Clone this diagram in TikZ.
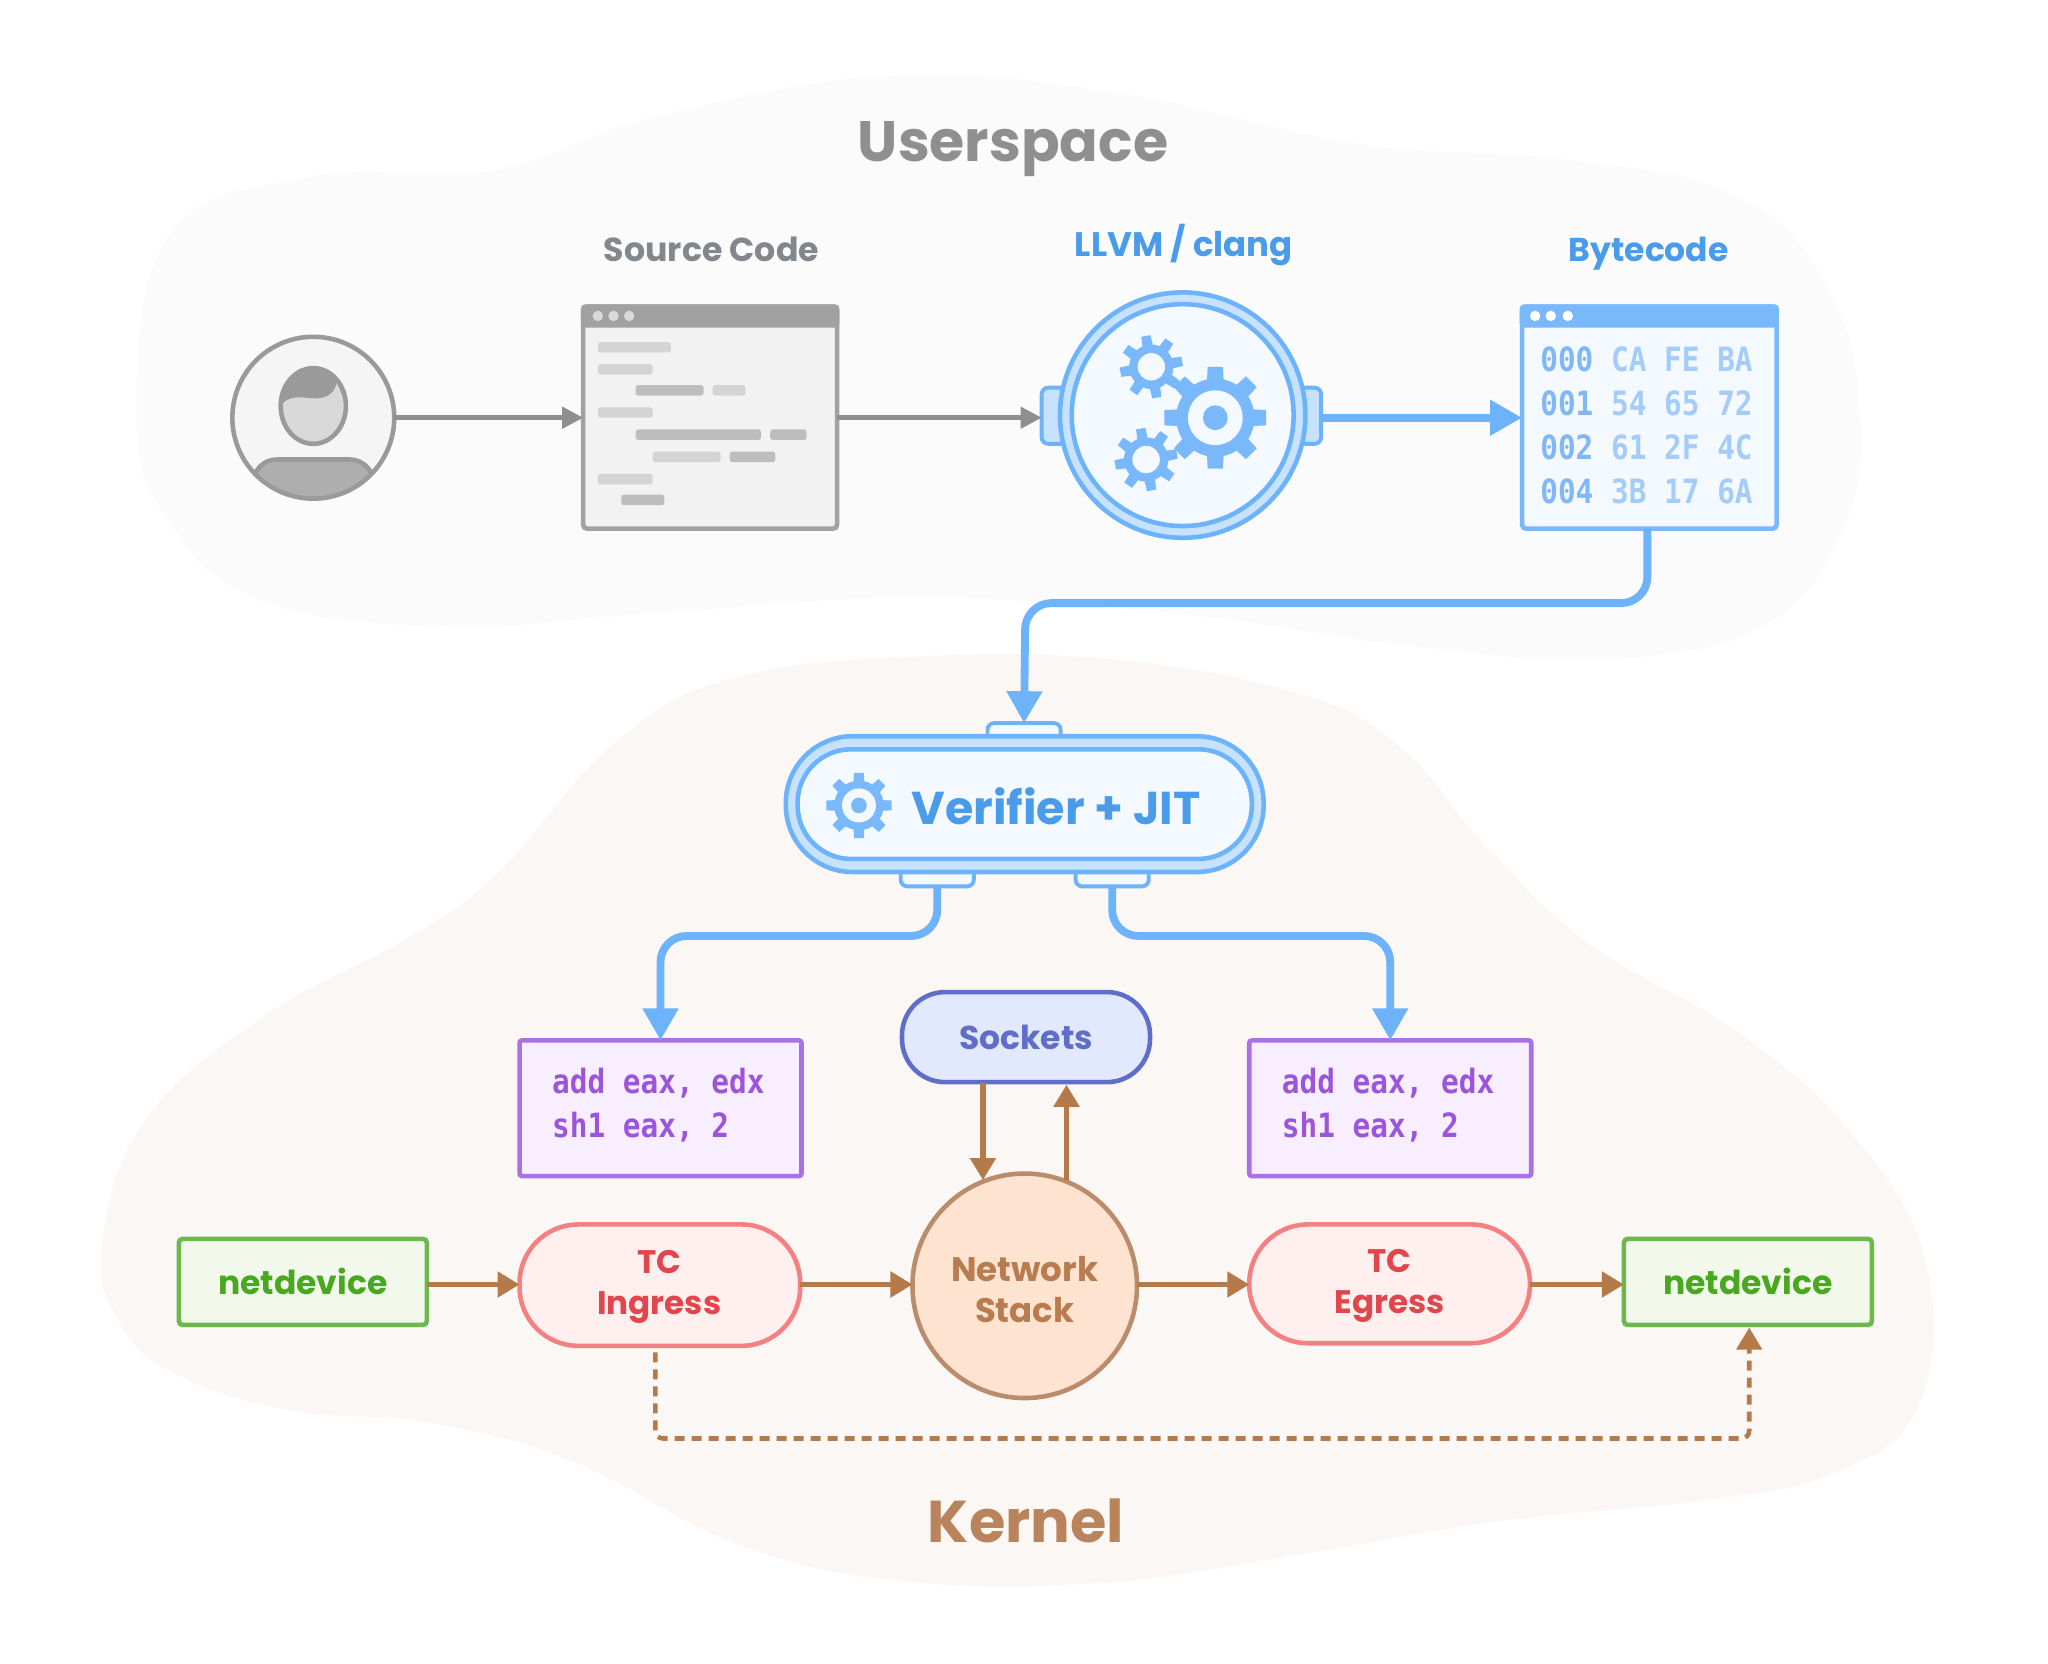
\documentclass[tikz,border=0pt]{standalone}
\usepackage{fontspec}
\setmainfont{Poppins}
\setmonofont[FakeStretch=0.88]{DejaVu Sans Mono}
\usetikzlibrary{arrows.meta}
\newcommand{\U}{0.65269pt}
\definecolor{usbg}{HTML}{FBFBFB}
\definecolor{kbg}{HTML}{FBF7F4}
\definecolor{gline}{HTML}{9A9A9A}
\definecolor{garrow}{HTML}{8F8F8F}
\definecolor{gtext}{HTML}{82878C}
\definecolor{blue}{HTML}{6DB3FB}
\definecolor{bluef}{HTML}{C7E2FF}
\definecolor{bluei}{HTML}{F4F9FF}
\definecolor{bluet}{HTML}{4A9BEA}
\definecolor{gearc}{HTML}{7AB8FC}
\definecolor{addr}{HTML}{7FB8F5}
\definecolor{hexb}{HTML}{A3CCF8}
\definecolor{purp}{HTML}{AA70E6}
\definecolor{purpf}{HTML}{F7EFFF}
\definecolor{purpt}{HTML}{9C55D8}
\definecolor{sockl}{HTML}{5F6FC9}
\definecolor{sockf}{HTML}{E2E8FD}
\definecolor{brown}{HTML}{B57A4A}
\definecolor{stackl}{HTML}{BB8C6C}
\definecolor{stackf}{HTML}{FDE3D0}
\definecolor{stackt}{HTML}{B97C50}
\definecolor{kernt}{HTML}{B9835C}
\definecolor{redl}{HTML}{F58082}
\definecolor{redf}{HTML}{FFEFEE}
\definecolor{redt}{HTML}{E0474C}
\definecolor{grnl}{HTML}{6CB84D}
\definecolor{grnf}{HTML}{F2F9EC}
\definecolor{grnt}{HTML}{49A81F}
\tikzset{
  sz/.style 2 args={minimum width=#1*\U,minimum height=#2*\U,inner sep=0pt,outer sep=0pt},
  lw/.style={line width=#1*\U},
  rc/.style={rounded corners=#1*\U},
  label/.style={font=\bfseries\fontsize{#1}{#1}\selectfont,inner sep=0pt,outer sep=0pt},
  twoline/.style={font=\bfseries\fontsize{#1}{20.6pt}\selectfont,align=center,inner sep=0pt,outer sep=0pt},
  codetext/.style={font=\ttfamily\bfseries\fontsize{16.7pt}{22pt}\selectfont,align=left,anchor=west,inner sep=0pt,outer sep=0pt},
  wind/.style={draw=#1,lw=3.5,rc=3},
  bport/.style={draw=blue,fill=bluei,lw=3,rc=5},
  bflow/.style={draw=blue,lw=6,rc=20,-{Triangle[length=16pt,width=17pt]}},
  gflow/.style={draw=garrow,lw=3.5,-{Triangle[length=10.5pt,width=10.5pt]}},
  kflow/.style={draw=brown,lw=4,-{Triangle[length=11pt,width=12.5pt]}},
  asmbox/.style={sz={216}{104},draw=purp,fill=purpf,lw=3.5,rc=2},
  tcbox/.style={draw=redl,fill=redf,lw=3.5,rc=45},
  ndbox/.style={sz={190}{66},draw=grnl,fill=grnf,lw=3.5,rc=3,text=grnt,label=16.5pt},
}
% center x, center y, tip r, root r, hole r, dot r, rotation, hole colour
\newcommand{\gearat}[8]{%
  \begin{scope}[shift={(#1,#2)}]
    \fill[gearc] (0,0) circle[radius=#4];
    \foreach \a in {0,45,...,315}{
      \fill[gearc,rotate=\a+#7] (-#3*0.2,0) -- (-#3*0.15,#3) -- (#3*0.15,#3) -- (#3*0.2,0) -- cycle;
    }
    \fill[#8] (0,0) circle[radius=#5];
    \fill[gearc] (0,0) circle[radius=#6];
  \end{scope}}
\begin{document}
\begin{tikzpicture}[x=0.65269pt,y=-0.65269pt]
\useasboundingbox (0,0) rectangle (1568.9,1274.7);
\fill[white] (0,0) rectangle (1568.9,1274.7);
% regions
\fill[usbg] plot[smooth cycle,tension=0.7] coordinates {(105,320) (130,180) (240,135) (380,130) (500,90) (680,58) (850,70) (1040,110) (1200,122) (1330,150) (1400,220) (1425,320) (1410,410) (1350,480) (1230,505) (1080,495) (900,470) (700,458) (500,470) (340,480) (200,460) (130,400)};
\fill[kbg] plot[smooth cycle,tension=0.7] coordinates {(78,955) (110,860) (200,780) (310,720) (380,670) (470,570) (560,520) (700,503) (850,505) (990,530) (1070,570) (1140,650) (1220,725) (1330,790) (1420,870) (1476,970) (1468,1080) (1400,1130) (1300,1150) (1150,1165) (1000,1190) (850,1212) (700,1212) (570,1185) (440,1120) (330,1090) (220,1080) (130,1050) (90,1010)};
\node[label=28.5pt,text=garrow] (ustitle) at (776,114) {Userspace};
\node[label=29.5pt,text=kernt] (ktitle) at (786,1165) {Kernel};
\node[label=16.6pt,text=gtext] (srclabel) at (545,191) {Source Code};
\node[label=17pt,text=bluet] (llvmlabel) at (907,188) {LLVM / clang};
\node[label=16.5pt,text=bluet] (bytelabel) at (1263,194) {Bytecode};
% user
\node[circle,sz={124}{124},fill=black!4] (user) at (240,320) {};
\begin{scope}
  \clip (240,320) circle[radius=62];
  \fill[gline!80,draw=gline,lw=3.5,rc=18] (194,352) rectangle (286,400);
\end{scope}
\filldraw[fill=black!15,draw=gline,lw=3.5] (240,311) ellipse[x radius=25,y radius=29];
\begin{scope}
  \clip (240,311) ellipse[x radius=25,y radius=29];
  \fill[gline] (210,275) -- (270,275) -- (270,320) -- (258,293) .. controls (256,303) and (248,306) .. (238,305) .. controls (228,304) and (220,303) .. (214,312) -- cycle;
\end{scope}
\draw[gline,lw=3.5] (user.center) circle[radius=62];
% source window
\node[sz={194.5}{170},wind=black!37,fill=black!5] (src) at (544,320) {};
\fill[black!37] (445,251) [rc=3] -- (445,233.2) -- (643,233.2) -- (643,251) -- cycle;
\foreach \x in {458,470,482} \fill[black!15] (\x,242) circle[radius=4];
\foreach \a/\b/\y/\c in {458/514/266/black!17,458/500/283/black!17,487/539/299/black!26,546/571/299/black!17,458/500/316/black!17,487/583/333/black!26,590/618/333/black!26,500/552/350/black!17,559/594/350/black!26,458/500/367/black!17,476/509/383/black!26}
  \fill[\c,rc=2] (\a,\y-4) rectangle (\b,\y+4);
% llvm
\node[sz={27}{43},bport,fill=bluef] (lport) at (811.5,318.5) {};
\node[sz={27}{43},bport,fill=bluef] (rport) at (998.5,318.5) {};
\node[circle,sz={188}{188},draw=blue,fill=bluef,lw=3.5] (llvm) at (906,318) {};
\filldraw[draw=blue,fill=bluei,lw=3.5] (906,318) circle[radius=85];
\gearat{931}{320}{39}{30}{21}{9.5}{0}{bluei}
\gearat{882}{281}{24}{17}{10.5}{0}{10}{bluei}
\gearat{878}{352}{24}{17}{10.5}{0}{10}{bluei}
% bytecode window
\node[sz={195}{170},wind=gearc,fill=bluei] (byte) at (1263.5,320) {};
\fill[gearc] (1164.2,251) [rc=3] -- (1164.2,233.2) -- (1362.8,233.2) -- (1362.8,251) -- cycle;
\foreach \x in {1176,1188,1201} \fill[white] (\x,242) circle[radius=4];
\node[codetext,text=hexb] (hex) at (1180,326) {\textcolor{addr}{000} CA FE BA\\\textcolor{addr}{001} 54 65 72\\\textcolor{addr}{002} 61 2F 4C\\\textcolor{addr}{004} 3B 17 6A};
% connectors upper
\draw[gflow] (user) -- (src.west);
\draw[gflow] (src.east) -- (lport.west |- src.east);
\draw[draw=blue,lw=6,-{Triangle[length=16pt,width=17pt]}] (rport.east |- byte.west) -- (byte.west);
% verifier
\node[sz={56}{18},bport,rc=5] (vtop) at (784.5,563) {};
\node[sz={56}{18},bport] (vl) at (718,670) {};
\node[sz={56}{18},bport] (vr) at (852,670) {};
\node[sz={366}{104},draw=blue,fill=bluef,lw=3.5,rc=51] (verif) at (785,616) {};
\node[sz={348}{84},draw=blue,fill=bluei,lw=3.5,rc=41] (verifi) at (785,616) {};
\gearat{658}{617}{25}{19}{13}{6}{0}{bluei}
\node[label=23pt,text=bluet] (veriflabel) at (809,618) {Verifier + JIT};
\coordinate (b1) at (1262,462);
\coordinate (b2) at (785.5,462);
\draw[bflow] (byte.south -| b1) -- (b1) -- (b2) -- (vtop.north);
% asm
\node[asmbox] (asmL) at (506,849) {};
\node[asmbox] (asmR) at (1065,849) {};
\node[codetext,text=purpt] (asmLt) at (423,846.5) {add eax, edx\\sh1 eax, 2};
\node[codetext,text=purpt] (asmRt) at (982,846.5) {add eax, edx\\sh1 eax, 2};
\coordinate (l1) at (718,717);
\coordinate (l2) at (506,717);
\coordinate (r1) at (852,717);
\coordinate (r2) at (1065,717);
\draw[bflow] (vl.south) -- (l1) -- (l2) -- (asmL.north);
\draw[bflow] (vr.south) -- (r1) -- (r2) -- (asmR.north);
% kernel nodes
\node[sz={190}{69},draw=sockl,fill=sockf,lw=3.5,rc=33,text=sockl,label=16.5pt] (sockets) at (786,794.5) {Sockets};
\node[circle,sz={172}{172},draw=stackl,fill=stackf,lw=3.5] (stack) at (785,985) {};
\node[text=stackt,twoline=17pt] (stacklabel) at (785,988) {Network\\Stack};
\node[tcbox,sz={215}{93}] (ingress) at (505.5,984.5) {};
\node[text=redt,twoline=16.3pt] (ingresslabel) at (505,986) {TC\\Ingress};
\node[tcbox,sz={215}{91}] (egress) at (1064.5,983.5) {};
\node[text=redt,twoline=16.3pt] (egresslabel) at (1064.5,985) {TC\\Egress};
\node[ndbox] (ndL) at (232,982) {netdevice};
\node[ndbox] (ndR) at (1339,982) {netdevice};
\coordinate (sa) at (753,830);
\coordinate (sb) at (753,904);
\coordinate (sc) at (817,904);
\coordinate (sd) at (817,831);
\draw[kflow] (sa) -- (sb);
\draw[kflow] (sc) -- (sd);
\coordinate (e0) at (328,984);
\draw[kflow] (ndL.east |- e0) -- (ingress.west |- e0);
\draw[kflow] (ingress.east |- e0) -- (stack.west |- e0);
\draw[kflow] (stack.east |- e0) -- (egress.west |- e0);
\draw[kflow] (egress.east |- e0) -- (ndR.west |- e0);
\coordinate (d0) at (502,1036);
\coordinate (d1) at (502,1102);
\coordinate (d2) at (1340,1102);
\coordinate (d3) at (1340,1017);
\draw[brown,lw=3.5,rc=6,dash pattern=on 5pt off 3.5pt,-{Triangle[length=11pt,width=12.5pt]}] (d0) -- (d1) -- (d2) -- (d3);
\end{tikzpicture}
\end{document}
